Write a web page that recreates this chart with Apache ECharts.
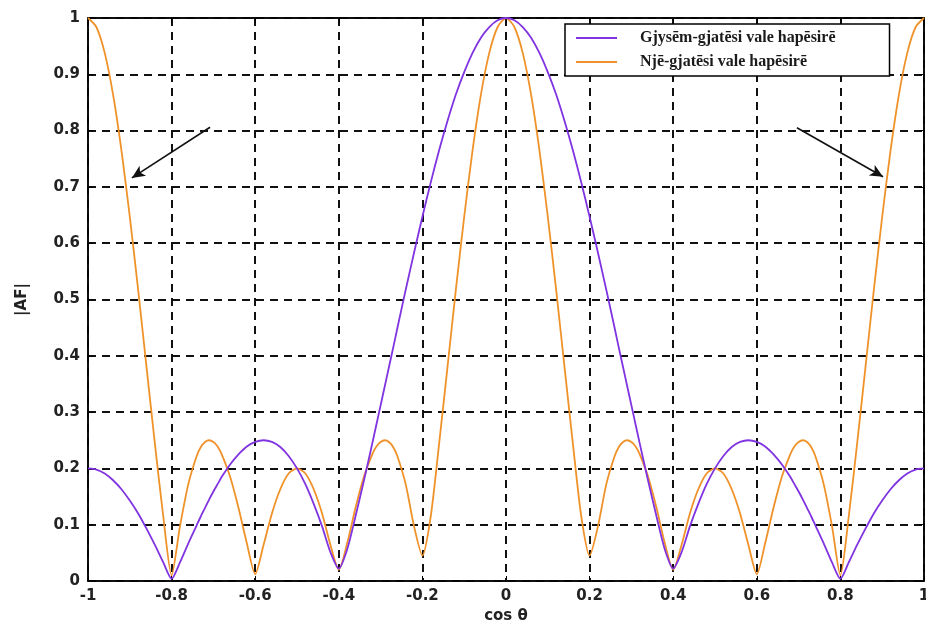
<!DOCTYPE html>
<html>
<head>
<meta charset="utf-8">
<script src="https://cdn.jsdelivr.net/npm/echarts@6/dist/echarts.min.js"></script>
<style>
  html, body { margin: 0; padding: 0; background: #fff; }
  #chart { width: 926px; height: 632px; }
</style>
</head>
<body>
<div id="chart"></div>
<script>
// cos θ sample points (denser around the side-lobe tops)
const cosTheta = [
  -1, -0.98, -0.96, -0.94, -0.92, -0.9, -0.88, -0.86, -0.84, -0.82,
  -0.8, -0.78, -0.76, -0.74, -0.73, -0.72, -0.71, -0.7, -0.69, -0.68, -0.66, -0.64, -0.62,
  -0.6, -0.58, -0.56, -0.54, -0.52, -0.5, -0.48, -0.46, -0.44, -0.42,
  -0.4, -0.38, -0.36, -0.34, -0.32, -0.31, -0.3, -0.29, -0.28, -0.27, -0.26, -0.24, -0.22,
  -0.2, -0.18, -0.16, -0.14, -0.12, -0.1, -0.08, -0.06, -0.04, -0.02,
  0,
  0.02, 0.04, 0.06, 0.08, 0.1, 0.12, 0.14, 0.16, 0.18, 0.2,
  0.22, 0.24, 0.26, 0.27, 0.28, 0.29, 0.3, 0.31, 0.32, 0.34, 0.36, 0.38, 0.4,
  0.42, 0.44, 0.46, 0.48, 0.5, 0.52, 0.54, 0.56, 0.58, 0.6,
  0.62, 0.64, 0.66, 0.68, 0.69, 0.7, 0.71, 0.72, 0.73, 0.74, 0.76, 0.78, 0.8,
  0.82, 0.84, 0.86, 0.88, 0.9, 0.92, 0.94, 0.96, 0.98, 1
];

// |AF| for half-wavelength spacing (purple)
const halfWave = [
  0.200, 0.198, 0.191, 0.179, 0.163, 0.143, 0.120, 0.093, 0.064, 0.033,
  0.004, 0.033, 0.067, 0.099, 0.115, 0.130, 0.145, 0.159, 0.172, 0.185, 0.207, 0.225, 0.239,
  0.247, 0.250, 0.247, 0.238, 0.222, 0.200, 0.172, 0.137, 0.097, 0.051,
  0.022, 0.056, 0.115, 0.178, 0.244, 0.278, 0.312, 0.346, 0.380, 0.414, 0.449, 0.517, 0.583,
  0.647, 0.708, 0.765, 0.817, 0.864, 0.904, 0.938, 0.965, 0.984, 0.996,
  1,
  0.996, 0.984, 0.965, 0.938, 0.904, 0.864, 0.817, 0.765, 0.708, 0.647,
  0.583, 0.517, 0.449, 0.414, 0.380, 0.346, 0.312, 0.278, 0.244, 0.178, 0.115, 0.056, 0.022,
  0.051, 0.097, 0.137, 0.172, 0.200, 0.222, 0.238, 0.247, 0.250, 0.247,
  0.239, 0.225, 0.207, 0.185, 0.172, 0.159, 0.145, 0.130, 0.115, 0.099, 0.067, 0.033, 0.004,
  0.033, 0.064, 0.093, 0.120, 0.143, 0.163, 0.179, 0.191, 0.198, 0.200
];

// |AF| for one-wavelength spacing (orange)
const oneWave = [
  1, 0.984, 0.938, 0.864, 0.765, 0.647, 0.517, 0.380, 0.244, 0.115,
  0.010, 0.097, 0.172, 0.222, 0.238, 0.247, 0.250, 0.247, 0.239, 0.225, 0.185, 0.130, 0.067,
  0.012, 0.064, 0.120, 0.163, 0.191, 0.200, 0.191, 0.163, 0.120, 0.064,
  0.020, 0.067, 0.130, 0.185, 0.225, 0.239, 0.247, 0.250, 0.247, 0.238, 0.222, 0.172, 0.097,
  0.045, 0.115, 0.244, 0.380, 0.517, 0.647, 0.765, 0.864, 0.938, 0.984,
  1,
  0.984, 0.938, 0.864, 0.765, 0.647, 0.517, 0.380, 0.244, 0.115, 0.045,
  0.097, 0.172, 0.222, 0.238, 0.247, 0.250, 0.247, 0.239, 0.225, 0.185, 0.130, 0.067, 0.020,
  0.064, 0.120, 0.163, 0.191, 0.200, 0.191, 0.163, 0.120, 0.064, 0.012,
  0.067, 0.130, 0.185, 0.225, 0.239, 0.247, 0.250, 0.247, 0.238, 0.222, 0.172, 0.097, 0.010,
  0.115, 0.244, 0.380, 0.517, 0.647, 0.765, 0.864, 0.938, 0.984, 1
];

const seriesNames = ['Gjysēm-gjatēsi vale hapēsirē', 'Njē-gjatēsi vale hapēsirē'];

// arrows pointing to the grating lobes: [from, to] in data coords
const arrows = [
  [[-0.708, 0.806], [-0.895, 0.716]],
  [[0.696, 0.805], [0.902, 0.718]]
];

const chart = echarts.init(document.getElementById('chart'));

const tickFont = { fontFamily: 'DejaVu Sans', fontWeight: 'bold', fontSize: 15, color: '#222' };
const gridDash = { color: '#111', width: 2, type: [8, 6] };
const frameLine = { onZero: false, lineStyle: { color: '#000', width: 1.5 } };
const innerTick = { show: true, inside: true, length: 5, lineStyle: { color: '#000' } };

chart.setOption({
  animation: false,
  backgroundColor: '#fff',
  grid: {
    left: 88, top: 18, right: 2, bottom: 51,
    outerBoundsMode: 'none', containLabel: false,
    show: true, borderColor: '#000', borderWidth: 1.5
  },
  legend: {
    orient: 'vertical',
    left: 565,
    top: 24,
    padding: [5, 54, 5, 11],
    itemGap: 6,
    itemWidth: 41,
    itemHeight: 2,
    icon: 'rect',
    backgroundColor: '#fff',
    borderColor: '#000',
    borderWidth: 1.5,
    borderRadius: 0,
    textStyle: { fontFamily: 'Liberation Serif', fontWeight: 'bold', fontSize: 16, color: '#1a1a1a', lineHeight: 18, padding: [0, 0, 0, 18] },
    data: seriesNames
  },
  xAxis: [{
    type: 'value', min: -1, max: 1, interval: 0.2,
    name: 'cos θ', nameLocation: 'middle', nameGap: 27,
    nameTextStyle: tickFont,
    axisLine: frameLine,
    axisTick: innerTick,
    axisLabel: Object.assign({ margin: 8 }, tickFont),
    splitLine: { show: true, lineStyle: gridDash }
  }, {
    type: 'value', min: -1, max: 1, interval: 0.2, position: 'top',
    axisLine: frameLine,
    axisTick: innerTick,
    axisLabel: { show: false },
    splitLine: { show: false }
  }],
  yAxis: [{
    type: 'value', min: 0, max: 1, interval: 0.1,
    name: '|AF|', nameLocation: 'middle', nameGap: 58, nameRotate: 90,
    nameTextStyle: tickFont,
    axisLine: Object.assign({ show: true }, frameLine),
    axisTick: innerTick,
    axisLabel: Object.assign({ margin: 8 }, tickFont),
    splitLine: { show: true, lineStyle: gridDash }
  }, {
    type: 'value', min: 0, max: 1, interval: 0.1, position: 'right',
    axisLine: Object.assign({ show: true }, frameLine),
    axisTick: innerTick,
    axisLabel: { show: false },
    splitLine: { show: false }
  }],
  series: [{
    name: seriesNames[0],
    type: 'line',
    data: cosTheta.map((u, i) => [u, halfWave[i]]),
    showSymbol: false,
    symbol: 'none',
    smooth: 0.25,
    color: '#8033e0',
    lineStyle: { width: 1.8, color: '#8033e0' },
    z: 3
  }, {
    name: seriesNames[1],
    type: 'line',
    data: cosTheta.map((u, i) => [u, oneWave[i]]),
    showSymbol: false,
    symbol: 'none',
    smooth: 0.25,
    color: '#f0922a',
    lineStyle: { width: 1.8, color: '#f0922a' },
    z: 2,
    markLine: {
      silent: true,
      symbol: ['none', 'arrow'],
      symbolSize: [9, 13],
      label: { show: false },
      lineStyle: { color: '#111', width: 1.6, type: 'solid' },
      data: arrows.map(a => [{ coord: a[0] }, { coord: a[1] }])
    }
  }]
});
</script>
</body>
</html>
